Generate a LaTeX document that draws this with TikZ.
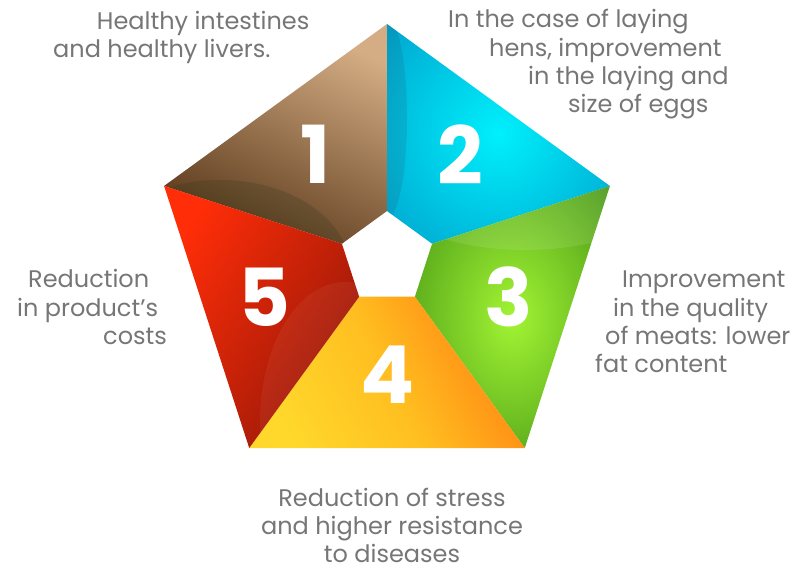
\documentclass[tikz,border=0pt]{standalone}
\usepackage{fontspec}
\setmainfont{Poppins}
\newfontfamily\numfont{Poppins}
\definecolor{txt}{HTML}{767676}
\definecolor{brownTop}{HTML}{D4AD84}
\definecolor{brownBot}{HTML}{5A381A}
\definecolor{cyanIn}{HTML}{00F0FC}
\definecolor{cyanOut}{HTML}{0096C6}
\definecolor{greenIn}{HTML}{A2F434}
\definecolor{greenOut}{HTML}{3A8A10}
\definecolor{yel}{HTML}{FFD82B}
\definecolor{org}{HTML}{FF8412}
\definecolor{redB}{HTML}{FF2D08}
\definecolor{redD}{HTML}{961808}
\pgfdeclareradialshading{cyanglow}{\pgfpointorigin}{color(0bp)=(cyanIn); color(42bp)=(cyanOut); color(50bp)=(cyanOut)}
\pgfdeclareradialshading{greenglow}{\pgfpointorigin}{color(0bp)=(greenIn); color(40bp)=(greenOut); color(50bp)=(greenOut)}
\begin{document}
\begin{tikzpicture}[x=1pt,y=1pt,
  lbl/.style={anchor=base west, inner sep=0pt, text=txt, font=\fontsize{24}{28}\selectfont},
  lblc/.style={anchor=base, inner sep=0pt, text=txt, font=\fontsize{24}{28}\selectfont},
  num/.style={inner sep=0pt, text=white, font=\numfont\bfseries\fontsize{80}{80}\selectfont}]
\useasboundingbox (0,0) rectangle (806,572);
\begin{scope}[shift={(387,313.6)}]
  \foreach \i/\a in {1/90,2/18,3/-54,4/-126,5/162}{
    \coordinate (O\i) at (\a:234.4pt);
    \coordinate (I\i) at (\a:47.4pt);}
\end{scope}
% segment 1 brown
\shade[top color=brownTop, bottom color=brownBot, shading angle=-25] (O1) -- (O5) -- (I5) -- (I1) -- cycle;
\begin{scope}
  \clip (O1) -- (O5) -- (I5) -- (I1) -- cycle;
  \fill[fill={rgb,255:red,50;green,60;blue,30}, opacity=0.25] (220,302) ellipse [x radius=130, y radius=90];
\end{scope}
% segment 2 cyan
\shade[shading=cyanglow] (O1) -- (O2) -- (I2) -- (I1) -- cycle;
\begin{scope}
  \clip (O1) -- (O2) -- (I2) -- (I1) -- cycle;
  \fill[fill={rgb,255:red,30;green,90;blue,120}, opacity=0.18] (387,454) ellipse [x radius=20, y radius=100];
\end{scope}
% segment 3 green
\shade[shading=greenglow] (O2) -- (O3) -- (I3) -- (I2) -- cycle;
\begin{scope}
  \clip (O2) -- (O3) -- (I3) -- (I2) -- cycle;
  \fill[white, opacity=0.1] (525,392) ellipse [x radius=150, y radius=70];
\end{scope}
% segment 4 yellow
\shade[top color=org, bottom color=yel, middle color={rgb,255:red,255;green,190;blue,32}, shading angle=-62] (O3) -- (O4) -- (I4) -- (I3) -- cycle;
% segment 5 red
\shade[top color=redB, bottom color=redD, shading angle=58] (O4) -- (O5) -- (I5) -- (I4) -- cycle;
\begin{scope}
  \clip (O4) -- (O5) -- (I5) -- (I4) -- cycle;
  \fill[white, opacity=0.05] (345,150) ellipse [x radius=85, y radius=140];
\end{scope}
% numbers
\node[num] (n1) at (316,418) {1};
\node[num] (n2) at (460,417) {2};
\node[num] (n3) at (509,275) {3};
\node[num] (n4) at (388,197) {4};
\node[num] (n5) at (264,275) {5};
% texts
\node[lbl] (t1a) at (96.7,542) {Healthy intestines};
\node[lbl] (t1b) at (53,514) {and healthy livers.};
\node[lbl] (t2a) at (448,544) {In the case of laying};
\node[lbl] (t2b) at (489,515) {hens, improvement};
\node[lbl] (t2c) at (528,487) {in the laying and};
\node[lbl] (t2d) at (568,459) {size of eggs};
\node[lbl] (t3a) at (622,284) {Improvement};
\node[lbl] (t3b) at (613,255) {in the quality};
\node[lbl] (t3c) at (605,227) {of meats: lower};
\node[lbl] (t3d) at (595,199) {fat content};
\node[lbl] (t4a) at (28,284) {Reduction};
\node[lbl] (t4b) at (17,255) {in product’s};
\node[lbl] (t4c) at (103,227) {costs};
\node[lblc] (t5a) at (392,65) {Reduction of stress};
\node[lblc] (t5b) at (392,37) {and higher resistance};
\node[lblc] (t5c) at (392,9) {to diseases};
\end{tikzpicture}
\end{document}
